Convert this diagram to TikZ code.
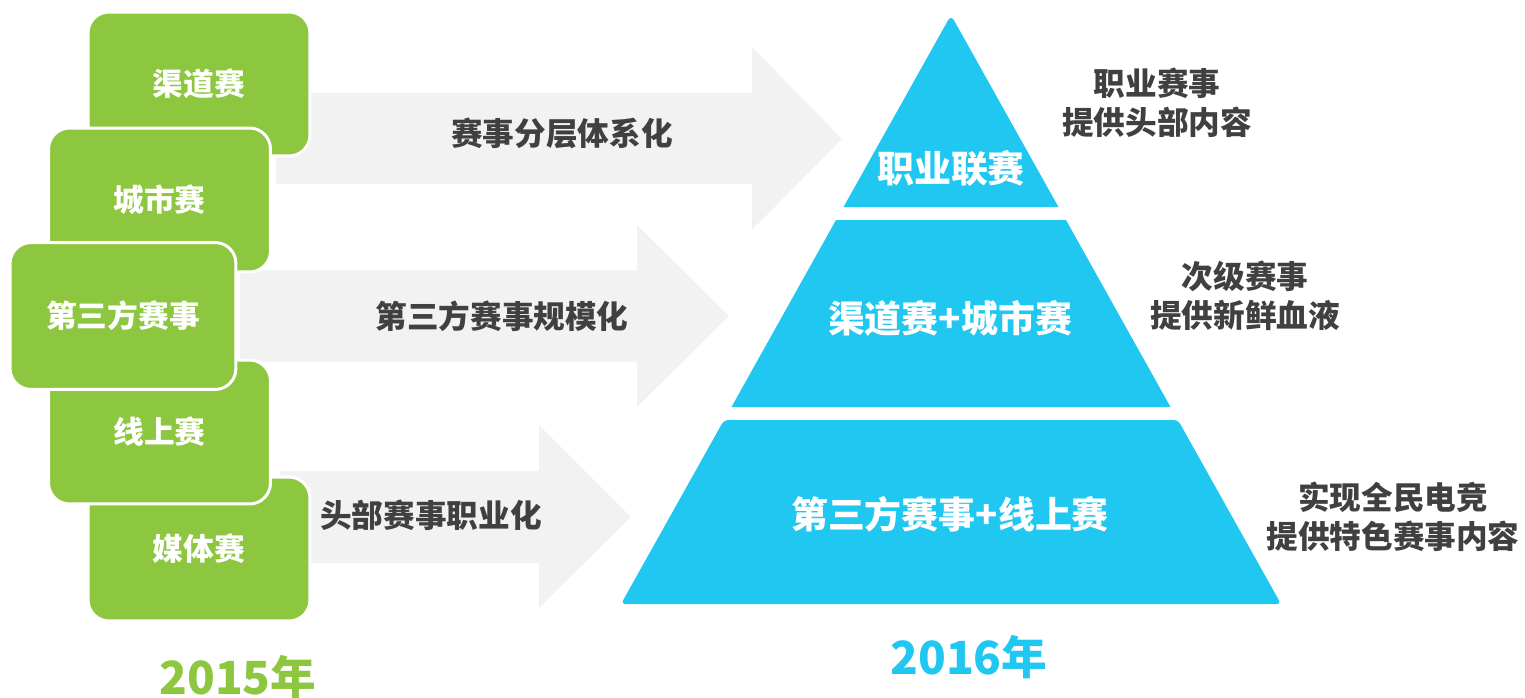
\documentclass[tikz,border=0pt]{standalone}
\usepackage{fontspec}
\setmainfont{Noto Sans CJK SC}
\definecolor{gboxc}{RGB}{141,198,63}
\definecolor{pblue}{RGB}{32,200,241}
\definecolor{arrgray}{RGB}{242,242,242}
\definecolor{darktxt}{RGB}{64,64,64}
\tikzset{
  gbox/.style={draw=white, line width=0.06cm, fill=gboxc, rounded corners=0.42cm,
    minimum width=4.44cm, minimum height=2.88cm, text=white, inner sep=0pt,
    font=\bfseries\fontsize{17.5}{20}\selectfont},
  arrowshape/.style={fill=arrgray},
  arrlbl/.style={text=darktxt, font=\bfseries\fontsize{18}{22}\selectfont, inner sep=0pt},
  sidelbl/.style={text=darktxt, align=center, font=\bfseries\fontsize{18}{22}\selectfont, inner sep=0pt},
  tier/.style={fill=pblue},
  tierlbl/.style={text=white, font=\bfseries\fontsize{21}{24}\selectfont, inner sep=0pt},
  yearlbl/.style={font=\bfseries\fontsize{26}{28}\selectfont, inner sep=0pt}
}
\begin{document}
\begin{tikzpicture}[x=0.02cm,y=-0.02cm]
\useasboundingbox (0,0) rectangle (1525,697);
% arrows
\path[arrowshape] (276,93) -- (752,93) -- (752,47) -- (842,139) -- (752,230) -- (752,184) -- (276,184) -- cycle;
\path[arrowshape] (240,270) -- (637,270) -- (637,225) -- (729,316) -- (637,407) -- (637,362) -- (240,362) -- cycle;
\path[arrowshape] (280,471) -- (539,471) -- (539,425) -- (631,517) -- (539,608) -- (539,563) -- (280,563) -- cycle;
\node[arrlbl] (a1) at (562,133) {赛事分层体系化};
\node[arrlbl] (a2) at (502,316) {第三方赛事规模化};
\node[arrlbl] (a3) at (431,515) {头部赛事职业化};
% green boxes
\node[gbox] (b1) at (199,84) {渠道赛};
\node[gbox] (b5) at (199,549) {媒体赛};
\node[gbox] (b2) at (159.5,200) {城市赛};
\node[gbox] (b4) at (159.5,432) {线上赛};
\node[gbox, minimum width=4.52cm, minimum height=2.94cm] (b3) at (123,316) {第三方赛事};
% pyramid
\fill[tier] (843.5,207) [rounded corners=0.12cm] -- (951,15) [sharp corners] -- (1058.5,207) -- cycle;
\fill[tier] (836,220) -- (1066,220) -- (1170.5,407) -- (731.5,407) -- cycle;
\fill[tier, rounded corners=0.08cm] (724,420) -- (1178,420) -- (1281,604) -- (621,604) -- cycle;
\node[tierlbl] (t1) at (951,168) {职业联赛};
\node[tierlbl] (t2) at (950,318) {渠道赛+城市赛};
\node[tierlbl] (t3) at (950,514) {第三方赛事+线上赛};
% side labels
\node[sidelbl] (s1) at (1157,103) {职业赛事\\提供头部内容};
\node[sidelbl] (s2) at (1245,296) {次级赛事\\提供新鲜血液};
\node[sidelbl] (s3) at (1393,517) {实现全民电竞\\提供特色赛事内容};
% years
\node[yearlbl, text=gboxc] (y1) at (238,677) {2015年};
\node[yearlbl, text=pblue] (y2) at (969,657) {2016年};
\end{tikzpicture}
\end{document}
